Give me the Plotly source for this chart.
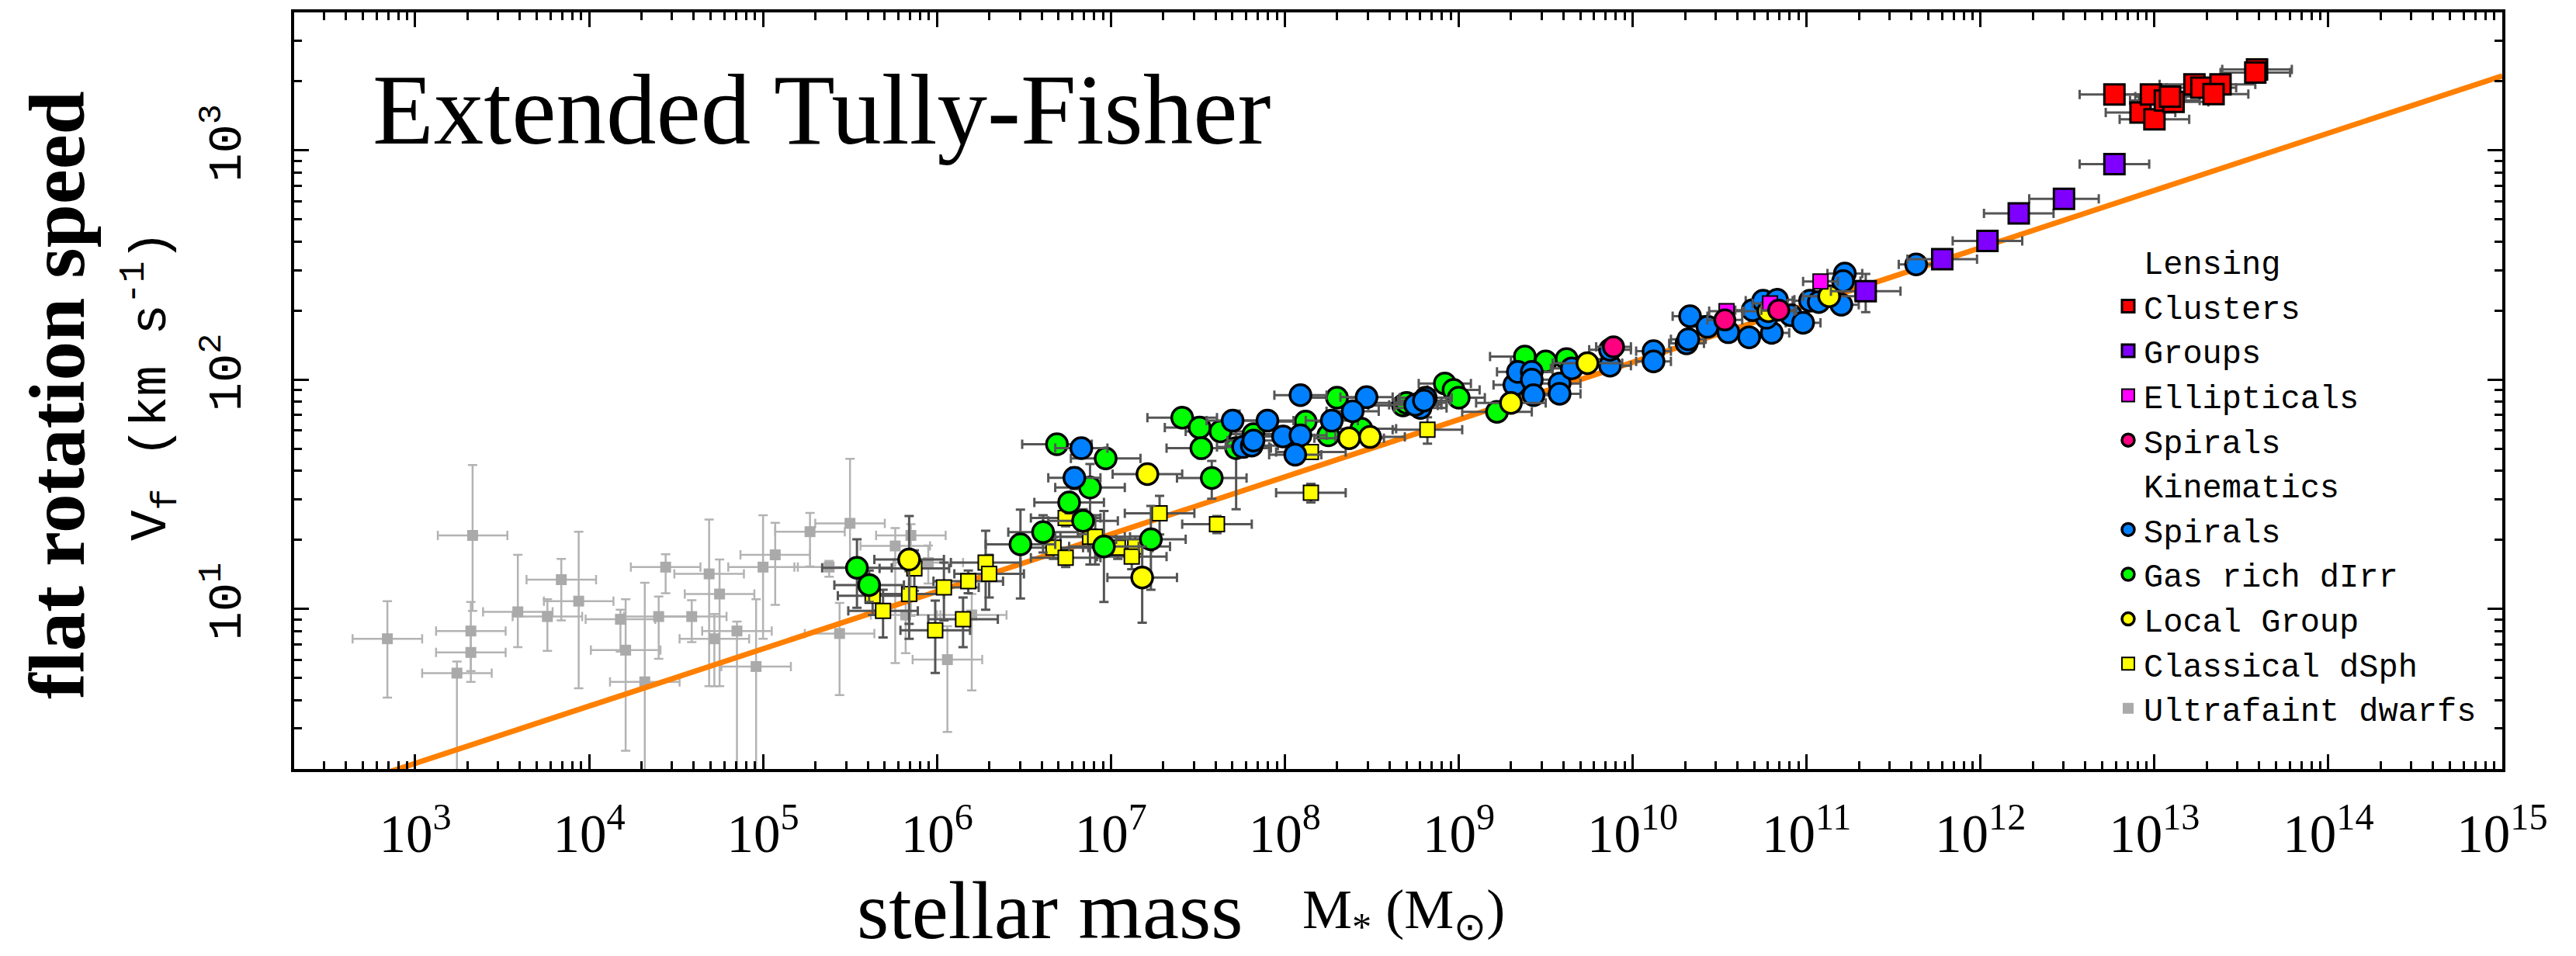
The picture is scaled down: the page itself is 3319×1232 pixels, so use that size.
import numpy as np
import plotly.graph_objects as go

# ---------------- data (log10 stellar mass [Msun], flat rotation speed [km/s]) ----------------
# Lensing: clusters
clusters_logM = [12.77, 12.92, 13.00, 12.98, 13.06, 13.11, 13.09, 13.23, 13.27, 13.38, 13.34, 13.59, 13.58]
clusters_vf = [1754, 1462, 1368, 1754, 1652, 1629, 1718, 1941, 1879, 1941, 1762, 2254, 2188]
clusters_dlogM = [0.20, 0.20, 0.20, 0.20, 0.20, 0.20, 0.20, 0.20, 0.20, 0.20, 0.20, 0.20, 0.20]
clusters_dvf = [40, 35, 35, 40, 40, 40, 40, 45, 45, 45, 40, 50, 50]

# Lensing: groups
groups_logM = [11.34, 11.78, 12.04, 12.22, 12.48, 12.77]
groups_vf = [243, 335, 403, 531, 615, 871]
groups_dlogM = [0.20, 0.20, 0.20, 0.20, 0.20, 0.20]
groups_dvf = [46, 10, 12, 14, 15, 20]

# Lensing: ellipticals
ell_logM = [10.54, 10.79, 11.08]
ell_vf = [199, 215, 268]
ell_dlogM = [0.10, 0.10, 0.10]
ell_dvf = [8, 8, 10]

# Lensing: spirals
lsp_logM = [9.89, 10.53, 10.84]
lsp_vf = [139, 182, 201]
lsp_dlogM = [0.10, 0.10, 0.10]
lsp_dvf = [6, 7, 8]

# Kinematics: spirals
ksp_logM = [6.83, 6.79, 7.70, 7.76, 7.90, 8.09, 8.47, 8.39, 8.27, 7.99, 8.09, 8.06, 7.81, 7.82,
            8.78, 8.81, 8.78, 8.75, 8.80, 9.32, 9.34, 9.42, 9.42, 9.43, 9.58, 9.58, 9.65, 9.87,
            9.87, 10.12, 10.12, 10.31, 10.32, 10.33, 10.43, 10.55, 10.67, 10.80, 10.77, 10.69,
            10.75, 10.83, 10.91, 10.98, 11.02, 11.07, 11.20, 11.22, 11.21, 11.63]
ksp_vf = [50.2, 37.3, 66.2, 50.8, 66.2, 85.5, 83.8, 72.8, 66.2, 56.5, 57.1, 47.0, 51.5, 54.2,
          79.3, 83.4, 75.2, 77.6, 81.0, 94.8, 108, 108, 100, 85.5, 96.2, 86.7, 112, 115,
          135, 133, 120, 144, 150, 189, 170, 161, 153, 160, 186, 201,
          221, 223, 191, 177, 221, 218, 212, 290, 269, 318]
ksp_dlogM = [0.15, 0.15, 0.15, 0.15, 0.15, 0.15, 0.15, 0.15, 0.15, 0.15, 0.15, 0.15, 0.15, 0.15,
             0.15, 0.15, 0.15, 0.15, 0.15, 0.12, 0.12, 0.12, 0.12, 0.12, 0.12, 0.12, 0.12, 0.12,
             0.12, 0.10, 0.10, 0.10, 0.10, 0.10, 0.10, 0.10, 0.10, 0.10, 0.10, 0.10,
             0.10, 0.10, 0.10, 0.10, 0.10, 0.10, 0.10, 0.10, 0.10, 0.10]
ksp_dvf = [4, 4, 5, 5, 5, 6, 6, 5, 5, 5, 5, 4, 4, 4,
           6, 6, 6, 6, 6, 7, 8, 8, 7, 6, 7, 6, 8, 8,
           9, 9, 8, 10, 10, 12, 11, 10, 10, 10, 12, 12,
           14, 14, 12, 11, 14, 14, 13, 18, 17, 20]

# Kinematics: gas rich dIrr
gas_logM = [5.54, 5.61, 6.48, 6.61, 6.69, 6.97, 6.88, 6.76, 6.84, 6.96, 7.23, 7.41, 7.51, 7.63,
            7.52, 7.58, 7.72, 8.30, 8.12, 8.25, 8.44, 7.82, 8.68, 8.70, 8.92, 8.97, 9.00, 9.22,
            9.38, 9.50, 9.62]
gas_vf = [15.1, 12.7, 19.1, 21.6, 52.2, 45.3, 33.8, 29.1, 24.2, 18.7, 20.1, 68.2, 61.8, 59.4,
          50.2, 37.2, 50.2, 83.4, 65.6, 57.1, 61.0, 57.8, 77.1, 79.1, 96.2, 90.2, 83.4, 72.3,
          126, 120, 123]
gas_dlogM = [0.20, 0.20, 0.20, 0.20, 0.20, 0.20, 0.20, 0.20, 0.20, 0.20, 0.20, 0.20, 0.20, 0.20,
             0.20, 0.20, 0.20, 0.20, 0.20, 0.20, 0.20, 0.20, 0.20, 0.20, 0.15, 0.15, 0.15, 0.20,
             0.20, 0.20, 0.20]
gas_dvf = [5, 2, 8, 4, 4, 4, 9, 3, 3, 8, 8, 5, 5, 5,
           5, 7, 23, 6, 5, 5, 5, 5, 6, 6, 7, 7, 7, 6,
           8, 8, 8]

# Kinematics: Local Group
lg_logM = [5.84, 7.21, 7.18, 8.37, 8.49, 9.30, 9.74, 10.78, 11.13]
lg_vf = [16.4, 38.7, 13.7, 55.5, 56.2, 79.1, 118, 199, 231]
lg_dlogM = [0.20, 0.20, 0.20, 0.20, 0.20, 0.20, 0.20, 0.15, 0.15]
lg_dvf = [9, 3, 5, 4, 4, 5, 6, 8, 8]

# Kinematics: classical dSph
dsph_logM = [6.74, 6.67, 6.74, 6.88, 6.91, 7.04, 7.14, 7.12, 7.28, 7.61, 6.28, 6.30, 6.18, 6.04,
             5.84, 5.87, 5.63, 5.69, 6.15, 5.99, 8.15, 8.15, 8.82]
dsph_vf = [24.9, 18.5, 16.7, 20.6, 20.6, 18.5, 18.7, 16.9, 26.1, 23.4, 15.9, 14.2, 13.2, 12.4,
           11.6, 15.0, 11.4, 9.8, 9.0, 8.05, 48.3, 32.1, 60.5]
dsph_dlogM = [0.20, 0.20, 0.20, 0.20, 0.20, 0.20, 0.20, 0.20, 0.20, 0.20, 0.20, 0.20, 0.20, 0.20,
              0.20, 0.20, 0.20, 0.20, 0.20, 0.20, 0.20, 0.20, 0.20]
dsph_dvf = [2, 2, 1.5, 5, 5, 2, 2, 2, 5, 2, 6, 3, 1.5, 3.5,
            3, 3, 2, 2.3, 2.2, 2.8, 3, 3, 8]

# Kinematics: ultrafaint dwarfs (asymmetric velocity errors)
uf_logM = [2.84, 3.33, 3.32, 3.32, 3.24, 3.59, 3.76, 3.84, 3.94, 4.18, 4.21, 4.32, 4.40, 4.44,
           4.59, 4.69, 4.75, 4.72, 4.85, 4.96, 5.00, 5.07, 5.27, 5.38, 5.50, 5.44, 5.76, 5.85,
           6.06, 5.95, 6.20, 5.82]
uf_vf = [7.4, 20.9, 8.0, 6.45, 5.24, 9.7, 9.25, 13.4, 10.8, 9.0, 6.6, 4.8, 9.25, 15.2,
         9.25, 14.2, 11.6, 7.4, 8.0, 5.6, 15.2, 17.2, 21.7, 15.2, 23.6, 7.8, 18.8, 20.9,
         6.0, 15.9, 9.4, 9.4]
uf_dvf_up = [3.4, 21.5, 2.7, 1.4, 0.65, 7.5, 1.75, 3.1, 10.9, 0.9, 4.4, 8.2, 2.05, 2.1,
             1.65, 10.3, 4.8, 2.1, 0.8, 5.4, 10.4, 6.5, 4.5, 1.0, 21.5, 2.8, 3.7, 2.5,
             2.4, 3.0, 2.2, 3.0]
uf_dvf_down = [3.3, 11.1, 3.2, 1.1, 5.3, 2.9, 2.7, 4.5, 6.3, 2.5, 4.2, 4.9, 3.2, 3.5,
               2.1, 9.6, 7.0, 2.8, 8.1, 5.7, 7.8, 6.8, 6.4, 1.4, 8.3, 3.6, 13.0, 11.6,
               3.1, 3.0, 5.0, 3.0]
uf_dlogM = [0.20, 0.20, 0.20, 0.20, 0.20, 0.20, 0.20, 0.20, 0.20, 0.20, 0.20, 0.20, 0.20, 0.20,
            0.20, 0.20, 0.20, 0.20, 0.20, 0.20, 0.20, 0.20, 0.20, 0.20, 0.20, 0.20, 0.20, 0.20,
            0.20, 0.20, 0.20, 0.20]

# Baryonic Tully-Fisher relation line (endpoints)
btf_mass = [1.0e2, 1.0e15]
btf_vf = [1.19, 2115.0]

# Axis ticks
x_tick_exps = [3, 4, 5, 6, 7, 8, 9, 10, 11, 12, 13, 14, 15]
y_tick_exps = [1, 2, 3]

# ---------------- helpers ----------------
ERR_DARK = "#555555"
ERR_LIGHT = "#b3b3b3"


def xerrs(logM, dlog):
    m = 10 ** np.asarray(logM, dtype=float)
    d = np.asarray(dlog, dtype=float)
    return m, m * (10 ** d - 1), m * (1 - 10 ** (-d))


def add_series(fig, name, logM, vf, dlogM, dvf_up, dvf_down, symbol, size, color,
               line_w, err_color, rank, err_th=3, line_color="black"):
    m, xp, xm = xerrs(logM, dlogM)
    fig.add_trace(go.Scatter(
        x=m, y=vf, mode="markers", name=name, legendrank=rank,
        marker=dict(symbol=symbol, size=size, color=color,
                    line=dict(color=line_color, width=line_w)),
        error_x=dict(type="data", array=xp, arrayminus=xm, color=err_color,
                     thickness=err_th, width=6),
        error_y=dict(type="data", array=dvf_up, arrayminus=dvf_down, color=err_color,
                     thickness=err_th, width=6),
        hoverinfo="skip"))


fig = go.Figure()

# ultrafaint dwarfs (bottom layer)
add_series(fig, "Ultrafaint dwarfs", uf_logM, uf_vf, uf_dlogM, uf_dvf_up, uf_dvf_down,
           "square", 14, "#aaaaaa", 0, ERR_LIGHT, 11, err_th=2.5)

# BTFR line
fig.add_trace(go.Scatter(x=btf_mass, y=btf_vf, mode="lines", showlegend=False,
                         line=dict(color="#ff8000", width=7), hoverinfo="skip"))

add_series(fig, "Classical dSph", dsph_logM, dsph_vf, dsph_dlogM, dsph_dvf, dsph_dvf,
           "square", 19, "#ffff00", 2, ERR_DARK, 10)
add_series(fig, "Gas rich dIrr", gas_logM, gas_vf, gas_dlogM, gas_dvf, gas_dvf,
           "circle", 27, "#00ff00", 3.5, ERR_DARK, 8)
add_series(fig, "Spirals ", ksp_logM, ksp_vf, ksp_dlogM, ksp_dvf, ksp_dvf,
           "circle", 27, "#0080ff", 3.5, ERR_DARK, 7)
add_series(fig, "Local Group", lg_logM, lg_vf, lg_dlogM, lg_dvf, lg_dvf,
           "circle", 27, "#ffff00", 3.5, ERR_DARK, 9)
add_series(fig, "Ellipticals", ell_logM, ell_vf, ell_dlogM, ell_dvf, ell_dvf,
           "square", 19, "#ff00ff", 2, ERR_DARK, 4)
add_series(fig, "Spirals", lsp_logM, lsp_vf, lsp_dlogM, lsp_dvf, lsp_dvf,
           "circle", 26, "#ff0080", 3.5, ERR_DARK, 5)
add_series(fig, "Groups", groups_logM, groups_vf, groups_dlogM, groups_dvf, groups_dvf,
           "square", 26, "#8000ff", 3, ERR_DARK, 3)
add_series(fig, "Clusters", clusters_logM, clusters_vf, clusters_dlogM, clusters_dvf, clusters_dvf,
           "square", 26, "#ff0000", 3, ERR_DARK, 2)

# legend headers (no symbol)
for hdr, rk in (("Lensing", 1), ("Kinematics", 6)):
    fig.add_trace(go.Scatter(x=[None], y=[None], mode="markers", name=hdr, legendrank=rk,
                             marker=dict(size=1, color="rgba(0,0,0,0)",
                                         line=dict(width=0)),
                             hoverinfo="skip"))

# ---------------- axes ----------------
x_minor = [k * 10 ** e for e in range(2, 15) for k in range(2, 10)]
y_minor = [k * 10 ** e for e in range(0, 4) for k in range(2, 10)]

common_axis = dict(type="log", showgrid=False, zeroline=False, showline=True,
                   linewidth=4, linecolor="black", mirror="allticks",
                   ticks="inside", ticklen=19, tickwidth=3, tickcolor="black")

fig.update_xaxes(**common_axis,
                 range=[2.304, 15.0],
                 tickvals=[10 ** e for e in x_tick_exps],
                 ticktext=[f"10<sup>{e}</sup>" for e in x_tick_exps],
                 tickfont=dict(family="Liberation Serif", size=69, color="black"),
                 ticklabelstandoff=20,
                 minor=dict(tickvals=x_minor, ticks="inside", ticklen=10, tickwidth=3,
                            tickcolor="black", showgrid=False))
fig.update_yaxes(**common_axis,
                 range=[np.log10(2.0), np.log10(4000.0)],
                 tickvals=[10 ** e for e in y_tick_exps],
                 ticktext=[f"10<sup>{e}</sup>" for e in y_tick_exps],
                 tickangle=-90,
                 tickfont=dict(family="Liberation Mono", size=62, color="black"),
                 ticklabelstandoff=40,
                 minor=dict(tickvals=y_minor, ticks="inside", ticklen=10, tickwidth=3,
                            tickcolor="black", showgrid=False))

L, R, T, B = 379, 95, 16, 241
W, H = 3319, 1232
pw, ph = W - L - R, H - T - B


def px(xp):
    return (xp - L) / pw


def py(yp):
    return (H - B - yp) / ph


fig.update_layout(
    width=W, height=H, autosize=False,
    margin=dict(l=L, r=R, t=T, b=B, pad=0),
    paper_bgcolor="white", plot_bgcolor="white",
    showlegend=True,
    legend=dict(x=px(2722), y=py(303), xanchor="left", yanchor="top",
                font=dict(family="Liberation Mono", size=42, color="black"),
                bgcolor="rgba(0,0,0,0)", borderwidth=0, traceorder="normal",
                itemsizing="trace", tracegroupgap=0),
    annotations=[
        dict(text="Extended Tully-Fisher", x=px(478), y=py(141), xref="paper", yref="paper",
             xanchor="left", yanchor="middle", showarrow=False,
             font=dict(family="Liberation Serif", size=129, color="black")),
        dict(text="<b>flat rotation speed</b>", x=px(74), y=py(509), xref="paper", yref="paper",
             xanchor="center", yanchor="middle", textangle=-90, showarrow=False,
             font=dict(family="Liberation Serif", size=101, color="black")),
        dict(text="V<sub>f</sub> (km s<sup>-1</sup>)", x=px(194), y=py(497),
             xref="paper", yref="paper", xanchor="center", yanchor="middle", textangle=-90,
             showarrow=False, font=dict(family="Liberation Mono", size=66, color="black")),
        dict(text="stellar mass", x=px(1102), y=py(1113), xref="paper", yref="paper",
             xanchor="left", yanchor="top", showarrow=False,
             font=dict(family="Liberation Serif", size=106, color="black")),
        dict(text="M<sub>*</sub>\u00a0(M<sub>\u2299</sub>)", x=px(1676), y=py(1130),
             xref="paper", yref="paper", xanchor="left", yanchor="top", showarrow=False,
             font=dict(family="Liberation Serif", size=72, color="black")),
    ],
)

fig.write_html("out.html")
